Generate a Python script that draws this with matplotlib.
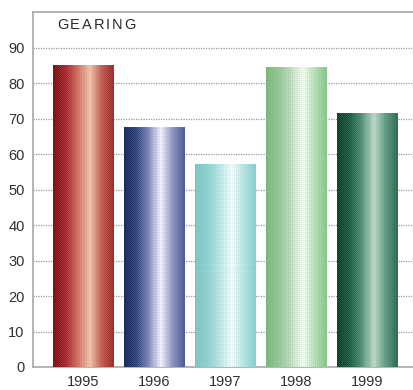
import numpy as np
import matplotlib
matplotlib.use("Agg")
import matplotlib.pyplot as plt
from matplotlib.colors import LinearSegmentedColormap

years = ["1995", "1996", "1997", "1998", "1999"]
gearing = [85, 67.5, 57, 84.5, 71.5]
yticks = [0, 10, 20, 30, 40, 50, 60, 70, 80, 90]

# horizontal shading stops for each bar: dark edge -> highlight -> edge
bar_shades = [
    ["#7e0c10", "#a8242a", "#cf6a5a", "#f3c4ae", "#c55a4c", "#a0282a"],
    ["#16265a", "#2c4482", "#7a82b8", "#f4f6ff", "#8c92c4", "#4a5a98"],
    ["#7fc6c6", "#8ed2d0", "#b8e6e4", "#f2ffff", "#b4e8e6", "#86d0d0"],
    ["#7ab87c", "#92c894", "#bcdcbc", "#f2fff2", "#b6e2b6", "#86c888"],
    ["#0a3e2a", "#175c40", "#4c8e72", "#bcdcca", "#5c9c80", "#2a6a50"],
]

plt.rcParams["font.family"] = ["Liberation Sans", "DejaVu Sans"]

fig = plt.figure(figsize=(4.14, 3.9), dpi=100)
ax = fig.add_axes([0.0797, 0.059, 0.9203, 0.910])

x = np.arange(len(years))
bars = ax.bar(x, gearing, width=0.845, color="none", edgecolor="none", zorder=3)

ax.set_xlim(-0.704, 4.66)
ax.set_ylim(0, 100)

# fill each bar with its gradient plus a fine dither texture,
# sampled at the bar's on-screen pixel size so the texture stays crisp
for bar, shades in zip(bars, bar_shades):
    cmap = LinearSegmentedColormap.from_list("shade", shades)
    x0, y0 = bar.get_x(), bar.get_y()
    x1, y1 = x0 + bar.get_width(), y0 + bar.get_height()
    (px0, py0), (px1, py1) = ax.transData.transform([(x0, y0), (x1, y1)])
    w_px = max(int(round(px1 - px0)), 2)
    h_px = max(int(round(py1 - py0)), 2)
    u = np.linspace(0, 1, w_px)
    rgb = cmap(u)[:, :3]
    img = np.repeat(rgb[None, :, :], h_px, axis=0)
    yy, xx = np.mgrid[0:h_px, 0:w_px]
    checker = ((xx + yy) % 2).astype(float)
    dots = ((xx % 2 == 0) & (yy % 2 == 0)).astype(float)
    img = img * (1 - 0.07 * dots[..., None]) + 0.07 * checker[..., None] * (1 - img)
    img = np.clip(img, 0, 1)
    ax.imshow(img, extent=(x0, x1, y0, y1), aspect="auto",
              interpolation="nearest", zorder=3, origin="lower")

ax.set_xlim(-0.704, 4.66)
ax.set_ylim(0, 100)
ax.set_xticks(x)
ax.set_xticklabels(years)
ax.set_yticks(yticks)
ax.tick_params(axis="both", length=0, labelsize=10.5, labelcolor="#303030")
ax.tick_params(axis="y", pad=6)
ax.tick_params(axis="x", pad=6)

ax.grid(axis="y", color="#9a9a9a", linestyle=(0, (1, 1)), linewidth=0.9, zorder=1)
ax.set_axisbelow(True)
for side in ["left", "bottom", "top"]:
    ax.spines[side].set_color("#a8a8a8")
    ax.spines[side].set_linewidth(1.2)
ax.spines["right"].set_visible(False)

# letter-spaced heading inside the plot area
fig.canvas.draw()
renderer = fig.canvas.get_renderer()
title = "GEARING"
xpos = 57
for ch in title:
    t = fig.text(xpos / 414, 1 - 25 / 390, ch, fontsize=10.5, color="#2a2a2a",
                 va="center", ha="left")
    bb = t.get_window_extent(renderer)
    xpos += bb.width + 1.8

fig.savefig("out.png", dpi=100)
